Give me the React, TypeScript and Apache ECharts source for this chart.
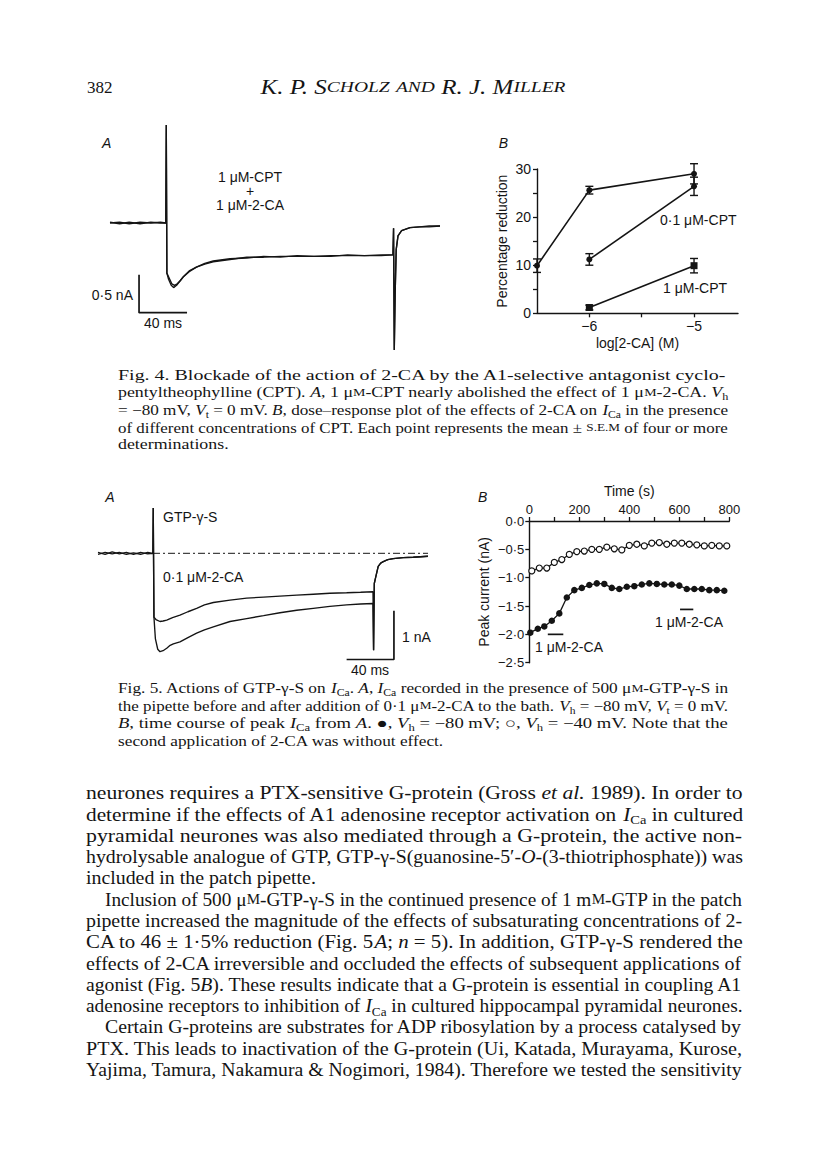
import { useEffect, useRef } from "react";
import * as echarts from "echarts";

const SERIF = "'Liberation Serif', 'DejaVu Serif', serif";
const SANS = "'Liberation Sans', Arial, 'DejaVu Sans', sans-serif";
const INK = "#141414";

// ---------------- Fig. 4A : current traces, [time (ms), current (nA)] ----------------
const fig4aControl: [number, number][] = [
  [0, 0], [8, 0.01], [16, -0.01], [25, 0.01], [34, 0], [42, 0.01], [46.5, 0],
  [46.9, 1.29], [47.4, -0.66], [48.8, -0.74], [51, -0.82], [53, -0.85], [55.5, -0.82],
  [58, -0.77], [61, -0.71], [66, -0.64], [72, -0.58], [79, -0.54], [86, -0.51],
  [100, -0.48], [114, -0.45], [128, -0.45], [142, -0.44], [156, -0.44], [170, -0.44],
  [184, -0.43], [198, -0.43], [212, -0.43], [226, -0.42], [235.8, -0.42],
  [236.3, -0.07], [236.9, -1.67], [237.6, -0.95], [238.5, -0.35], [240, -0.17],
  [243, -0.1], [250, -0.06], [258, -0.05], [266, -0.05], [275, -0.04],
];
const fig4aCPT: [number, number][] = [
  [0, 0.01], [8, -0.01], [16, 0.01], [25, -0.01], [34, 0.01], [42, 0], [46.5, 0],
  [46.9, 1.29], [47.4, -0.66], [49.2, -0.72], [51.5, -0.8], [53.8, -0.82], [56, -0.8],
  [58.5, -0.76], [61.5, -0.7], [66, -0.63], [72, -0.58], [79, -0.53], [86, -0.5],
  [100, -0.47], [114, -0.46], [128, -0.44], [142, -0.45], [156, -0.43], [170, -0.44],
  [184, -0.44], [198, -0.42], [212, -0.43], [226, -0.43], [235.8, -0.42],
  [236.3, -0.07], [236.9, -1.67], [237.6, -0.95], [238.5, -0.35], [240, -0.17],
  [243, -0.1], [250, -0.06], [258, -0.05], [266, -0.04], [275, -0.04],
];
const fig4aScaleBar: [number, number][] = [[24.2, -0.68], [24.2, -1.18], [64.2, -1.18]];

// ---------------- Fig. 4B : dose-response ----------------
const fig4bConc = [-6.5, -6, -5];
const fig4bNoCPT = [9.9, 25.6, 29.0];
const fig4bNoCPTErr = [1.4, 0.8, 2.1];
const fig4bCPTConc = [-6, -5];
const fig4bCPT01 = [11.2, 26.4];
const fig4bCPT01Err = [1.2, 1.9];
const fig4bCPT1 = [1.2, 9.9];
const fig4bCPT1Err = [0.5, 1.5];
const fig4bXTicks = [-6, -5];
const fig4bXMinor = [-6, -5.5, -5];
const fig4bYTicks = [0, 10, 20, 30];
const fig4bYMinor = [0, 5, 10, 15, 20, 25, 30];

// ---------------- Fig. 5A : current traces ----------------
const fig5aControl: [number, number][] = [
  [0, 0.02], [6, -0.02], [12, 0.03], [18, -0.01], [24, 0.02], [30, -0.02], [36, 0.02], [42, -0.01], [46.4, 0],
  [46.7, 0.93], [47.3, -1.31], [48.5, -1.75], [50.5, -1.97], [52.4, -2.02], [55, -2.0], [58.1, -1.95],
  [61, -1.89], [63.7, -1.86], [69.3, -1.82], [76, -1.73], [83.4, -1.64], [90, -1.57], [97.5, -1.51],
  [111.6, -1.4], [125.7, -1.34], [140, -1.28], [153.8, -1.22], [168, -1.17], [182, -1.13], [196, -1.09],
  [210.2, -1.06], [222, -1.04], [232.5, -1.03],
  [233, -1.99], [233.6, -0.62], [234.5, -0.52], [236.9, -0.27], [239, -0.2], [241.2, -0.17],
  [245, -0.13], [249.6, -0.11], [258, -0.09], [266.5, -0.08], [279, -0.06],
];
const fig5aAgonist: [number, number][] = [
  [0, -0.02], [6, 0.02], [12, -0.01], [18, 0.02], [24, -0.02], [30, 0.01], [36, -0.02], [42, 0.02], [46.4, 0],
  [46.7, 0.93], [47.3, -1.31], [49, -1.36], [52.4, -1.4], [55, -1.39], [58.1, -1.37], [63, -1.32],
  [69.3, -1.27], [76, -1.2], [83.4, -1.13], [90, -1.06], [97.5, -1.01], [111.6, -0.96], [125.7, -0.92],
  [140, -0.9], [153.8, -0.88], [168, -0.86], [182, -0.84], [196, -0.82], [210.2, -0.81], [222, -0.8],
  [232.5, -0.79],
  [233, -1.99], [233.6, -0.62], [234.5, -0.52], [236.9, -0.27], [239, -0.2], [241.2, -0.17],
  [245, -0.13], [249.6, -0.11], [258, -0.09], [266.5, -0.08], [279, -0.06],
];
const fig5aZeroLine: [number, number][] = [[46.5, 0], [279, 0]];
const fig5aScaleBar: [number, number][] = [[210.2, -2.18], [250.2, -2.18], [250.2, -1.18]];

// ---------------- Fig. 5B : time course of peak current ----------------
const fig5bTimeOpen = [10, 40, 70, 100, 130, 160, 190, 220, 250, 280, 310, 340, 370, 400, 430, 460, 490, 520, 550, 580, 610, 640, 670, 700, 730, 760, 790];
const fig5bOpen = [-0.88, -0.83, -0.83, -0.73, -0.68, -0.59, -0.54, -0.53, -0.5, -0.5, -0.46, -0.49, -0.51, -0.43, -0.41, -0.44, -0.39, -0.38, -0.41, -0.39, -0.39, -0.41, -0.42, -0.44, -0.43, -0.44, -0.44];
const fig5bTimeFilled = [4, 34, 60, 90, 120, 150, 180, 210, 240, 270, 300, 330, 360, 390, 420, 450, 480, 510, 540, 570, 600, 630, 660, 690, 720, 750, 780];
const fig5bFilled = [-1.97, -1.9, -1.86, -1.76, -1.63, -1.35, -1.22, -1.18, -1.13, -1.1, -1.11, -1.18, -1.2, -1.16, -1.15, -1.12, -1.1, -1.11, -1.12, -1.12, -1.14, -1.2, -1.2, -1.2, -1.22, -1.22, -1.23];
const fig5bApplications: [number, number, number][] = [[74, 136, -2.0], [603, 656, -1.56]];
const fig5bXTicks = [0, 200, 400, 600, 800];

// ---------------- Page text ----------------
const pageNumber = "382";
const runningHead = "K. P. S{ci|CHOLZ} {ci|AND} R. J. M{ci|ILLER}";
const fig4aLabel = "1 μM-CPT\n+\n1 μM-2-CA";
const caption4 = [
  "Fig. 4. Blockade of the action of 2-CA by the A1-selective antagonist cyclo-",
  "pentyltheophylline (CPT). {i|A}, 1 μ{c|M}-CPT nearly abolished the effect of 1 μ{c|M}-2-CA. {i|V}{s|h}",
  "= −80 mV, {i|V}{s|t} = 0 mV. {i|B}, dose–response plot of the effects of 2-CA on {i|I}{s|Ca} in the presence",
  "of different concentrations of CPT. Each point represents the mean ± {c|S.E.M} of four or more",
  "determinations.",
];
const caption5 = [
  "Fig. 5. Actions of GTP-γ-S on {i|I}{s|Ca}. {i|A}, {i|I}{s|Ca} recorded in the presence of 500 μ{c|M}-GTP-γ-S in",
  "the pipette before and after addition of 0·1 μ{c|M}-2-CA to the bath. {i|V}{s|h} = −80 mV, {i|V}{s|t} = 0 mV.",
  "{i|B}, time course of peak {i|I}{s|Ca} from {i|A}. ●, {i|V}{s|h} = −80 mV; ○, {i|V}{s|h} = −40 mV. Note that the",
  "second application of 2-CA was without effect.",
];
const bodyText = [
  "neurones requires a PTX-sensitive G-protein (Gross {i|et al.} 1989). In order to",
  "determine if the effects of A1 adenosine receptor activation on {i|I}{s|Ca} in cultured",
  "pyramidal neurones was also mediated through a G-protein, the active non-",
  "hydrolysable analogue of GTP, GTP-γ-S(guanosine-5′-{i|O}-(3-thiotriphosphate)) was",
  "included in the patch pipette.",
  "Inclusion of 500 μ{c|M}-GTP-γ-S in the continued presence of 1 m{c|M}-GTP in the patch",
  "pipette increased the magnitude of the effects of subsaturating concentrations of 2-",
  "CA to 46 ± 1·5% reduction (Fig. 5{i|A}; {i|n} = 5). In addition, GTP-γ-S rendered the",
  "effects of 2-CA irreversible and occluded the effects of subsequent applications of",
  "agonist (Fig. 5{i|B}). These results indicate that a G-protein is essential in coupling A1",
  "adenosine receptors to inhibition of {i|I}{s|Ca} in cultured hippocampal pyramidal neurones.",
  "Certain G-proteins are substrates for ADP ribosylation by a process catalysed by",
  "PTX. This leads to inactivation of the G-protein (Ui, Katada, Murayama, Kurose,",
  "Yajima, Tamura, Nakamura & Nogimori, 1984). Therefore we tested the sensitivity",
];
const bodyIndented = [5, 11];
const bodyRagged = [4];
const caption4Ragged = [4];
const caption5Ragged = [3];

// ---------------- helpers ----------------
const fmtDot = (v: number, d: number) => (v < 0 ? "−" : "") + Math.abs(v).toFixed(d).replace(".", "·");

let ctx: CanvasRenderingContext2D | null = null;
function measure(text: string, size: number, italic: boolean) {
  if (!ctx) ctx = document.createElement("canvas").getContext("2d");
  if (!ctx) return text.length * size * 0.45;
  ctx.font = `${italic ? "italic " : ""}${size}px ${SERIF}`;
  return ctx.measureText(text).width;
}
function tokens(line: string) {
  const out: { s: string; t: string }[] = [];
  const re = /\{(\w+)\|([^}]*)\}/g;
  let last = 0;
  let m: RegExpExecArray | null;
  while ((m = re.exec(line))) {
    if (m.index > last) out.push({ s: "", t: line.slice(last, m.index) });
    out.push({ s: m[1], t: m[2] });
    last = re.lastIndex;
  }
  if (last < line.length) out.push({ s: "", t: line.slice(last) });
  return out;
}
const SUB = 0.68;
const SC = 0.78;
function lineWidth(line: string, size: number, baseItalic = false) {
  return tokens(line).reduce((w, tk) => {
    if (tk.s === "i") return w + measure(tk.t, size, true);
    if (tk.s === "s") return w + measure(tk.t, size * SUB, false);
    if (tk.s === "c") return w + measure(tk.t, size * SC, false);
    if (tk.s === "ci") return w + measure(tk.t, size * SC, true);
    return w + measure(tk.t, size, baseItalic);
  }, 0);
}
function richStyles(size: number) {
  const lh = size * 1.3;
  return {
    i: { fontSize: size, fontFamily: SERIF, fontStyle: "italic", lineHeight: lh, fill: INK },
    s: { fontSize: size * SUB, fontFamily: SERIF, verticalAlign: "bottom", lineHeight: lh, fill: INK },
    c: { fontSize: size * SC, fontFamily: SERIF, lineHeight: lh, fill: INK },
    ci: { fontSize: size * SC, fontFamily: SERIF, fontStyle: "italic", lineHeight: lh, fill: INK },
  };
}
function textBlock(lines: string[], x0: number, x1: number, y0: number, dy: number, size: number, indent: number[], ragged: number[], indentPx: number) {
  const rich = richStyles(size);
  const xs = lines.map((_, i) => x0 + (indent.includes(i) ? indentPx : 0));
  const scales = lines.map((l, i) => (x1 - xs[i]) / lineWidth(l, size));
  const just = scales.filter((_, i) => !ragged.includes(i)).sort((a, b) => a - b);
  const med = just.length ? just[Math.floor(just.length / 2)] : 1;
  return lines.map((l, i) => ({
    type: "text",
    x: xs[i],
    y: y0 + i * dy,
    scaleX: ragged.includes(i) ? med : scales[i],
    silent: true,
    style: {
      text: l, rich, fontSize: size, fontFamily: SERIF, fill: INK, lineHeight: size * 1.3,
      align: "left", verticalAlign: "middle", textAlign: "left", textVerticalAlign: "middle",
    },
  }));
}
function label(text: string, x: number, y: number, align = "left", size = 14, italic = false, lineHeight?: number) {
  return {
    type: "text", x, y, silent: true,
    style: {
      text, fontSize: size, fontFamily: SANS, fontStyle: italic ? "italic" : "normal", fill: INK,
      lineHeight: lineHeight ?? size * 1.2,
      align, verticalAlign: "middle", textAlign: align, textVerticalAlign: "middle",
    },
  };
}
function errorBars(xs: number[], ys: number[], errs: number[]) {
  return {
    type: "custom", xAxisIndex: 1, yAxisIndex: 1, silent: true, z: 3,
    data: xs.map((x, i) => [x, ys[i] - errs[i], ys[i] + errs[i]]),
    renderItem: (_p: any, api: any) => {
      const x = api.value(0);
      const lo = api.coord([x, api.value(1)]);
      const hi = api.coord([x, api.value(2)]);
      const w = 4;
      const st = { stroke: INK, lineWidth: 1.4 };
      return {
        type: "group",
        children: [
          { type: "line", shape: { x1: lo[0], y1: lo[1], x2: hi[0], y2: hi[1] }, style: st },
          { type: "line", shape: { x1: lo[0] - w, y1: lo[1], x2: lo[0] + w, y2: lo[1] }, style: st },
          { type: "line", shape: { x1: hi[0] - w, y1: hi[1], x2: hi[0] + w, y2: hi[1] }, style: st },
        ],
      };
    },
  };
}

function buildOption() {
  const axLine = { show: true, onZero: false, lineStyle: { color: INK, width: 1.4 } };
  const tick = (vals: number[]) => ({ show: true, length: 4, customValues: vals, lineStyle: { color: INK, width: 1.3 } });
  const tickLabel = { color: INK, fontSize: 14, fontFamily: SANS };
  const nameStyle = { color: INK, fontSize: 14, fontFamily: SANS };
  const traceStyle = { color: INK, width: 1.35 };
  const headSize = 20;
  const headScale = 305 / lineWidth(runningHead, headSize, true);

  return {
    animation: false,
    backgroundColor: "#ffffff",
    textStyle: { fontFamily: SANS },
    grid: [
      { left: 110, top: 93.8, width: 330, height: 266 },
      { left: 537, top: 169, width: 201, height: 144.3 },
      { left: 98, top: 504.6, width: 330, height: 165.6 },
      { left: 529.3, top: 521, width: 200, height: 141.7 },
    ],
    xAxis: [
      { gridIndex: 0, type: "value", min: 0, max: 275, show: false },
      {
        gridIndex: 1, type: "value", min: -6.5, max: -4.58,
        axisLine: axLine, axisTick: tick(fig4bXMinor), splitLine: { show: false },
        axisLabel: { ...tickLabel, customValues: fig4bXTicks, margin: 6, formatter: (v: number) => fmtDot(v, 0) },
        name: "log[2-CA] (M)", nameLocation: "middle", nameGap: 23, nameTextStyle: nameStyle,
      },
      { gridIndex: 2, type: "value", min: 0, max: 279, show: false },
      {
        gridIndex: 3, type: "value", position: "top", min: 0, max: 800, interval: 100,
        axisLine: axLine, axisTick: { show: true, length: 4, lineStyle: { color: INK, width: 1.3 } },
        splitLine: { show: false },
        axisLabel: { ...tickLabel, fontSize: 13, customValues: fig5bXTicks, margin: 5 },
        name: "Time (s)", nameLocation: "middle", nameGap: 23, nameTextStyle: nameStyle,
      },
    ],
    yAxis: [
      { gridIndex: 0, type: "value", min: -1.8, max: 1.7, show: false },
      {
        gridIndex: 1, type: "value", min: 0, max: 30, interval: 5,
        axisLine: axLine, axisTick: tick(fig4bYMinor), splitLine: { show: false },
        axisLabel: { ...tickLabel, customValues: fig4bYTicks, margin: 6 },
        name: "Percentage reduction", nameLocation: "middle", nameGap: 28, nameTextStyle: nameStyle,
      },
      { gridIndex: 2, type: "value", min: -2.4, max: 1.0, show: false },
      {
        gridIndex: 3, type: "value", min: -2.5, max: 0, interval: 0.5,
        axisLine: axLine, axisTick: { show: true, length: 4, lineStyle: { color: INK, width: 1.3 } },
        splitLine: { show: false },
        axisLabel: { ...tickLabel, fontSize: 13, margin: 5, formatter: (v: number) => fmtDot(v, 1) },
        name: "Peak current (nA)", nameLocation: "middle", nameGap: 38, nameTextStyle: nameStyle,
      },
    ],
    series: [
      // Fig 4A
      { type: "line", xAxisIndex: 0, yAxisIndex: 0, data: fig4aControl, symbol: "none", lineStyle: traceStyle, silent: true, clip: false },
      { type: "line", xAxisIndex: 0, yAxisIndex: 0, data: fig4aCPT, symbol: "none", lineStyle: traceStyle, silent: true, clip: false },
      { type: "line", xAxisIndex: 0, yAxisIndex: 0, data: fig4aScaleBar, symbol: "none", lineStyle: { color: INK, width: 1.7 }, silent: true },
      // Fig 4B
      {
        type: "line", xAxisIndex: 1, yAxisIndex: 1, data: fig4bConc.map((x, i) => [x, fig4bNoCPT[i]]),
        symbol: "circle", symbolSize: 6, itemStyle: { color: INK }, lineStyle: { color: INK, width: 1.6 }, silent: true, clip: false,
      },
      {
        type: "line", xAxisIndex: 1, yAxisIndex: 1, data: fig4bCPTConc.map((x, i) => [x, fig4bCPT01[i]]),
        symbol: "circle", symbolSize: 6, itemStyle: { color: INK }, lineStyle: { color: INK, width: 1.6 }, silent: true,
      },
      {
        type: "line", xAxisIndex: 1, yAxisIndex: 1, data: fig4bCPTConc.map((x, i) => [x, fig4bCPT1[i]]),
        symbol: "rect", symbolSize: 7, itemStyle: { color: INK }, lineStyle: { color: INK, width: 1.6 }, silent: true,
      },
      errorBars(fig4bConc, fig4bNoCPT, fig4bNoCPTErr),
      errorBars(fig4bCPTConc, fig4bCPT01, fig4bCPT01Err),
      errorBars(fig4bCPTConc, fig4bCPT1, fig4bCPT1Err),
      // Fig 5A
      { type: "line", xAxisIndex: 2, yAxisIndex: 2, data: fig5aControl, symbol: "none", lineStyle: traceStyle, silent: true, clip: false },
      { type: "line", xAxisIndex: 2, yAxisIndex: 2, data: fig5aAgonist, symbol: "none", lineStyle: traceStyle, silent: true, clip: false },
      { type: "line", xAxisIndex: 2, yAxisIndex: 2, data: fig5aZeroLine, symbol: "none", lineStyle: { color: INK, width: 1, type: [7, 3, 2, 3] }, silent: true },
      { type: "line", xAxisIndex: 2, yAxisIndex: 2, data: fig5aScaleBar, symbol: "none", lineStyle: { color: INK, width: 1.7 }, silent: true },
      // Fig 5B
      {
        type: "line", xAxisIndex: 3, yAxisIndex: 3, data: fig5bTimeOpen.map((t, i) => [t, fig5bOpen[i]]),
        symbol: "circle", symbolSize: 6, showAllSymbol: true,
        itemStyle: { color: "#ffffff", borderColor: INK, borderWidth: 1.2 }, lineStyle: { color: INK, width: 1.3 }, silent: true,
      },
      {
        type: "line", xAxisIndex: 3, yAxisIndex: 3, data: fig5bTimeFilled.map((t, i) => [t, fig5bFilled[i]]),
        symbol: "circle", symbolSize: 6.5, showAllSymbol: true,
        itemStyle: { color: INK }, lineStyle: { color: INK, width: 1.3 }, silent: true,
      },
      {
        type: "custom", xAxisIndex: 3, yAxisIndex: 3, silent: true,
        data: fig5bApplications.map((a) => [a[0], a[2], a[1]]),
        renderItem: (_p: any, api: any) => {
          const p1 = api.coord([api.value(0), api.value(1)]);
          const p2 = api.coord([api.value(2), api.value(1)]);
          return { type: "line", shape: { x1: p1[0], y1: p1[1], x2: p2[0], y2: p2[1] }, style: { stroke: INK, lineWidth: 1.7 } };
        },
      },
    ],
    graphic: {
      elements: [
        // running head
        { type: "text", x: 87, y: 87, silent: true, style: { text: pageNumber, fontSize: 17, fontFamily: SERIF, fill: INK, align: "left", verticalAlign: "middle", textAlign: "left", textVerticalAlign: "middle" } },
        {
          type: "text", x: 413, y: 87, scaleX: headScale, silent: true,
          style: {
            text: runningHead, rich: richStyles(headSize), fontSize: headSize, fontFamily: SERIF, fontStyle: "italic", fill: INK,
            align: "center", verticalAlign: "middle", textAlign: "center", textVerticalAlign: "middle",
          },
        },
        // figure 4 labels
        label("A", 106.7, 143.3, "center", 14, true),
        label(fig4aLabel, 250, 191, "center", 14, false, 14.2),
        label("0·5 nA", 133, 295, "right", 14),
        label("40 ms", 163, 323, "center", 14),
        label("B", 503.3, 143.3, "center", 14, true),
        label("0·1 μM-CPT", 660, 220, "left", 14),
        label("1 μM-CPT", 663, 288, "left", 14),
        // figure 5 labels
        label("A", 110, 497, "center", 14, true),
        label("GTP-γ-S", 163, 517),
        label("0·1 μM-2-CA", 163, 577),
        label("1 nA", 402, 637, "left", 14),
        label("40 ms", 370, 670, "center", 14),
        label("B", 482.7, 497.3, "center", 14, true),
        label("1 μM-2-CA", 535, 647, "left", 14),
        label("1 μM-2-CA", 655, 622, "left", 14),
        // captions and body text
        ...textBlock(caption4, 118, 728, 375, 17.5, 14.5, [], caption4Ragged, 0),
        ...textBlock(caption5, 118, 728, 688, 17.5, 14.5, [], caption5Ragged, 0),
        ...textBlock(bodyText, 86, 743, 793, 21.3, 18, bodyIndented, bodyRagged, 19),
      ],
    },
  };
}

export default function App() {
  const ref = useRef<HTMLDivElement>(null);
  useEffect(() => {
    const el = ref.current;
    if (!el) return;
    const chart = echarts.init(el, undefined, { renderer: "svg" });
    chart.setOption(buildOption() as any);
    return () => chart.dispose();
  }, []);
  return (
    <div
      ref={ref}
      style={{ position: "absolute", left: 0, top: 0, width: 816, height: 1166, background: "#ffffff" }}
    />
  );
}
